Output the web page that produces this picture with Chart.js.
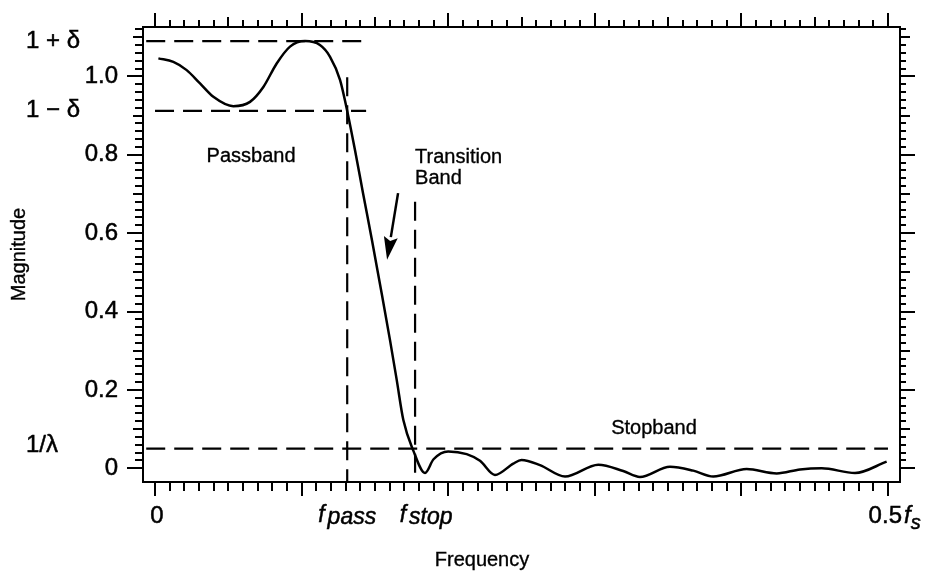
<!DOCTYPE html>
<html><head><meta charset="utf-8">
<script src="https://cdn.jsdelivr.net/npm/chart.js@4/dist/chart.umd.min.js"></script>
<style>html,body{margin:0;padding:0;background:#fff;}canvas{display:block;}</style>
</head><body>
<canvas id="c" width="931" height="572"></canvas>
<script>
// ---- data ----
const freq = [0.0023, 0.0125, 0.0216, 0.0307, 0.0398, 0.0534, 0.0648, 0.0739, 0.0830, 0.0921,
  0.1023, 0.1125, 0.1194, 0.1262, 0.1317, 0.1364, 0.1419, 0.1480, 0.1542, 0.1603,
  0.1649, 0.1694, 0.1762, 0.1842, 0.1900, 0.2000, 0.2126, 0.2217, 0.2319, 0.2444,
  0.2500, 0.2626, 0.2797, 0.3024, 0.3194, 0.3308, 0.3513, 0.3672, 0.3808, 0.4036,
  0.4241, 0.4400, 0.4548, 0.4775, 0.4991];
const magnitude = [1.046, 1.037, 1.016, 0.982, 0.948, 0.924, 0.935, 0.973, 1.033, 1.076,
  1.090, 1.080, 1.050, 0.991, 0.901, 0.812, 0.702, 0.582, 0.455, 0.327,
  0.225, 0.123, 0.045, -0.012, 0.023, 0.043, 0.036, 0.019, -0.017, 0.012,
  0.021, 0.008, -0.021, 0.009, -0.007, -0.022, 0.004, -0.006, -0.021, -0.002,
  -0.013, -0.003, 0.000, -0.012, 0.017];

const upperBandX = [-0.006, 0.145], upperBandY = [1.09, 1.09];
const lowerBandX = [0.0, 0.144],   lowerBandY = [0.912, 0.912];
const stopLevelX = [-0.006, 0.5],  stopLevelY = [0.05, 0.05];
const passEdgeX = [0.1311, 0.1311], passEdgeY = [0.998, -0.035];
const stopEdgeX = [0.1774, 0.1774], stopEdgeY = [0.68, -0.035];

const yTickValues = [0, 0.2, 0.4, 0.6, 0.8, 1.0];
const yTickLabels = ['0', '0.2', '0.4', '0.6', '0.8', '1.0'];
const symbolValues = [1.09, 0.912, 0.05];
const symbolLabels = ['1 + δ', '1 − δ', '1/λ'];
const xTickValues = [0, 0.1311, 0.1774, 0.5];
const xTickMain = ['0', 'f', 'f', '0.5'];
const xTickSub = ['', 'pass', 'stop', 's'];

const regionLabels = ['Passband', 'Transition', 'Band', 'Stopband'];
const regionX = [0.0655, 0.1774, 0.1774, 0.3404];
const regionY = [0.795, 0.792, 0.740, 0.101];
const arrowTail = [0.1658, 0.702];
const arrowTip = [0.1583, 0.532];

const XMIN = -0.0082, XMAX = 0.5082, YMIN = -0.035, YMAX = 1.126;

// ---- helpers ----
const pts = (xs, ys) => xs.map((x, i) => ({x: x, y: ys[i]}));
const nonNeg = (scale) => { scale.ticks = scale.ticks.filter(t => t.value > -1e-9); };
function tickAxis(axis, pos, step, len, border) {
  const isX = axis === 'x';
  return {
    type: 'linear', axis: axis,
    min: isX ? XMIN : YMIN, max: isX ? XMAX : YMAX,
    position: pos,
    ticks: {display: false, stepSize: step, includeBounds: false, autoSkip: false, maxTicksLimit: 1000},
    grid: {display: true, drawOnChartArea: false, drawTicks: true, tickLength: len,
           lineWidth: 2, tickWidth: 2, color: '#000', tickColor: '#000'},
    border: {display: border, width: 2, color: '#000'},
    afterBuildTicks: nonNeg
  };
}

function heavyText(ctx, s, x, y) {
  ctx.fillText(s, x, y);
  ctx.strokeText(s, x, y);
}

const textPlugin = {
  id: 'texts',
  afterDraw(chart) {
    const {ctx, chartArea: ca, scales} = chart;
    const xs = scales.x, ys = scales.y;
    const FONT = '"Liberation Sans", Arial, sans-serif';
    ctx.save();
    ctx.fillStyle = '#000';
    ctx.strokeStyle = '#000';
    ctx.lineWidth = 0.5;
    // y tick labels
    ctx.font = '24px ' + FONT;
    ctx.textAlign = 'right';
    ctx.textBaseline = 'middle';
    yTickValues.forEach((v, i) => heavyText(ctx, yTickLabels[i], ca.left - 25, ys.getPixelForValue(v)));
    symbolLabels.forEach((s, i) => {
      const right = s.indexOf('λ') >= 0 ? ca.left - 85 : ca.left - 63;
      const dy = s.indexOf('λ') >= 0 ? -3 : 0;
      heavyText(ctx, s, right, ys.getPixelForValue(symbolValues[i]) + dy);
    });
    // x tick labels
    ctx.textAlign = 'left';
    ctx.textBaseline = 'alphabetic';
    const base = ca.bottom + 41;
    xTickValues.forEach((v, i) => {
      const px = xs.getPixelForValue(v);
      const main = xTickMain[i], sub = xTickSub[i];
      if (main === 'f') {
        ctx.font = 'italic 23px ' + FONT;
        const wf = ctx.measureText('f').width;
        const ws = ctx.measureText(sub).width;
        const total = wf + 3 + ws;
        const shift = sub === 'stop' ? 11 : 0;
        const x0 = px - total / 2 + shift;
        heavyText(ctx, 'f', x0, base - 1);
        heavyText(ctx, sub, x0 + wf + 3, base + 1);
      } else if (sub) {
        ctx.font = '24px ' + FONT;
        ctx.textAlign = 'right';
        heavyText(ctx, main, px + 14, base);
        ctx.textAlign = 'left';
        ctx.font = 'italic 24px ' + FONT;
        heavyText(ctx, 'f', px + 16, base);
        const wf = ctx.measureText('f').width;
        ctx.font = 'italic 20px ' + FONT;
        heavyText(ctx, sub, px + 16 + wf, base + 6);
      } else {
        ctx.font = '24px ' + FONT;
        ctx.textAlign = 'center';
        heavyText(ctx, main, px + 2, base);
        ctx.textAlign = 'left';
      }
    });
    // region labels
    ctx.lineWidth = 0.35;
    ctx.font = '20px ' + FONT;
    ctx.textBaseline = 'middle';
    regionLabels.forEach((s, i) => {
      ctx.textAlign = (s === 'Transition' || s === 'Band') ? 'left' : 'center';
      heavyText(ctx, s, xs.getPixelForValue(regionX[i]), ys.getPixelForValue(regionY[i]));
    });
    // axis titles
    ctx.textAlign = 'center';
    ctx.font = '20px ' + FONT;
    heavyText(ctx, 'Frequency', 482, ca.bottom + 78);
    ctx.save();
    ctx.translate(19, (ca.top + ca.bottom) / 2);
    ctx.rotate(-Math.PI / 2);
    heavyText(ctx, 'Magnitude', 0, 0);
    ctx.restore();
    // arrow
    const tx = xs.getPixelForValue(arrowTail[0]), ty = ys.getPixelForValue(arrowTail[1]);
    const hx = xs.getPixelForValue(arrowTip[0]), hy = ys.getPixelForValue(arrowTip[1]);
    const ang = Math.atan2(hy - ty, hx - tx);
    const headLen = 23, headW = 7;
    const bx = hx - headLen * Math.cos(ang), by = hy - headLen * Math.sin(ang);
    ctx.lineWidth = 2.5;
    ctx.beginPath(); ctx.moveTo(tx, ty); ctx.lineTo(bx, by); ctx.stroke();
    ctx.beginPath();
    ctx.moveTo(hx, hy);
    ctx.lineTo(bx + headW * Math.sin(ang), by - headW * Math.cos(ang));
    ctx.lineTo(bx + 4 * Math.cos(ang), by + 4 * Math.sin(ang));
    ctx.lineTo(bx - headW * Math.sin(ang), by + headW * Math.cos(ang));
    ctx.closePath(); ctx.fill();
    ctx.restore();
  }
};

const dashed = (xs, ys) => ({data: pts(xs, ys), borderColor: '#000', borderWidth: 2.2,
  borderDash: [19, 9], pointRadius: 0, fill: false, tension: 0});

new Chart(document.getElementById('c'), {
  type: 'line',
  data: {
    datasets: [
      {data: pts(freq, magnitude), borderColor: '#000', borderWidth: 2.5, pointRadius: 0,
       fill: false, cubicInterpolationMode: 'monotone'},
      dashed(upperBandX, upperBandY),
      dashed(lowerBandX, lowerBandY),
      dashed(stopLevelX, stopLevelY),
      dashed(passEdgeX, passEdgeY),
      dashed(stopEdgeX, stopEdgeY)
    ]
  },
  options: {
    responsive: false, animation: false, devicePixelRatio: 1,
    layout: {padding: {left: 143, right: 31, top: 27, bottom: 90}},
    plugins: {legend: {display: false}, tooltip: {enabled: false}, title: {display: false}},
    scales: {
      x: tickAxis('x', {y: YMIN}, 0.01, 8, true),
      xMaj: tickAxis('x', {y: YMIN}, 0.1, 14, false),
      xTop: tickAxis('x', {y: YMAX}, 0.01, -8, true),
      xTopMid: tickAxis('x', {y: YMAX}, 0.05, -10, false),
      xTopMaj: tickAxis('x', {y: YMAX}, 0.1, -14, false),
      y: tickAxis('y', {x: XMIN}, 0.02, 7, true),
      yMid: tickAxis('y', {x: XMIN}, 0.1, 10, false),
      yMaj: tickAxis('y', {x: XMIN}, 0.2, 16, false),
      yRight: tickAxis('y', {x: XMAX}, 0.02, -7, true),
      yRightMid: tickAxis('y', {x: XMAX}, 0.1, -10, false),
      yRightMaj: tickAxis('y', {x: XMAX}, 0.2, -15, false)
    }
  },
  plugins: [textPlugin]
});
</script>
</body></html>
